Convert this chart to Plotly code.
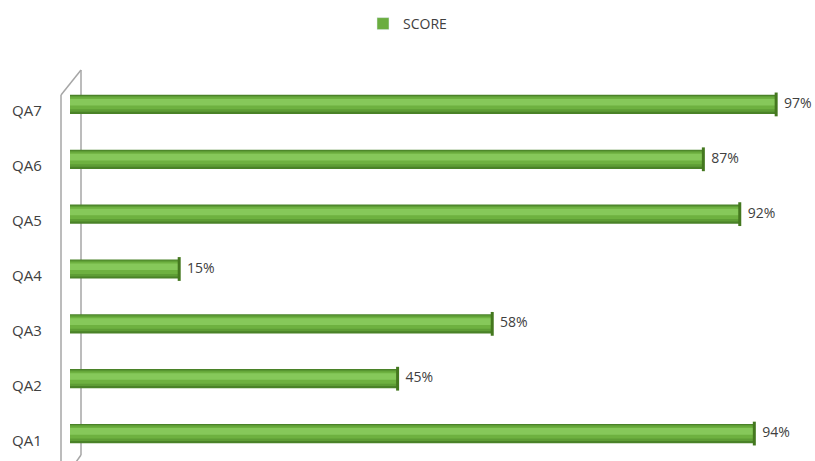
import plotly.graph_objects as go

categories = ["QA1", "QA2", "QA3", "QA4", "QA5", "QA6", "QA7"]
scores = [94, 45, 58, 15, 92, 87, 97]
labels = [f"{v}%" for v in scores]
series_name = "SCORE"

FONT = "Open Sans, sans-serif"
fig = go.Figure()

# cylinder-like shading: overlays of decreasing width, highlight above centre
layers = [
    (-0.175, 0.35, "#4a8228"),
    (-0.135, 0.29, "#5e9d35"),
    (-0.09, 0.22, "#6eb140"),
    (-0.02, 0.12, "#86c85a"),
]
for i, (off, w, c) in enumerate(layers):
    fig.add_trace(go.Bar(
        x=scores, y=categories, orientation="h",
        width=w, offset=off, marker=dict(color=c, line=dict(width=0)),
        name=series_name, showlegend=False,
        hoverinfo="skip",
    ))
# darker rounded end of each cylinder
fig.add_trace(go.Scatter(
    x=scores, y=categories, mode="markers",
    marker=dict(symbol="line-ns", size=17, line=dict(color="#44781f", width=3)),
    showlegend=False, hoverinfo="skip", cliponaxis=False,
))
# value labels
fig.add_trace(go.Scatter(
    x=scores, y=categories, mode="markers+text",
    marker=dict(size=11, opacity=0),
    text=labels, textposition="middle right",
    textfont=dict(family=FONT, size=14, color="#404040"),
    showlegend=False, hoverinfo="skip", cliponaxis=False,
))

# legend entry
fig.add_trace(go.Bar(
    x=[None], y=[None], orientation="h", name=series_name,
    marker=dict(color="#6aad3f"), showlegend=True,
))

# category labels (slightly below bar centres, as in the 3D original)
annotations = [
    dict(x=0, xref="paper", y=c, yref="y", text=c, showarrow=False,
         xanchor="right", xshift=-26, yshift=-6,
         font=dict(family=FONT, size=15, color="#404040"))
    for c in categories
]

# left 3D wall outline (decorative)
wall = dict(type="line", xref="paper", yref="paper", layer="below",
            line=dict(color="#a6a6a6", width=1.5))
xl, xr = -9/728, 11/728
shapes = [
    dict(wall, x0=xl, x1=xl, y0=-0.05, y1=(461-95)/384),
    dict(wall, x0=xl, x1=xr, y0=(461-95)/384, y1=(461-70)/384),
    dict(wall, x0=xr, x1=xr, y0=(461-70)/384, y1=(461-455)/384),
    dict(wall, x0=xr, x1=xl+0.003, y0=(461-455)/384, y1=-0.05),
]

fig.update_layout(
    width=815, height=461,
    margin=dict(l=70, r=17, t=77, b=0),
    barmode="overlay",
    plot_bgcolor="white", paper_bgcolor="white",
    font=dict(family=FONT, size=13, color="#404040"),
    xaxis=dict(range=[0, 100], visible=False, showgrid=False),
    yaxis=dict(categoryorder="array", categoryarray=categories,
               range=[-0.5, 6.5], showgrid=False, zeroline=False,
               showline=False, ticks="", showticklabels=False),
    legend=dict(orientation="h", x=0.5, xref="container", xanchor="center",
                y=1 - 8/461, yref="container", yanchor="top",
                font=dict(family=FONT, size=14, color="#404040"),
                itemwidth=30),
    annotations=annotations,
    shapes=shapes,
    showlegend=True,
)

fig.write_html("out.html")
